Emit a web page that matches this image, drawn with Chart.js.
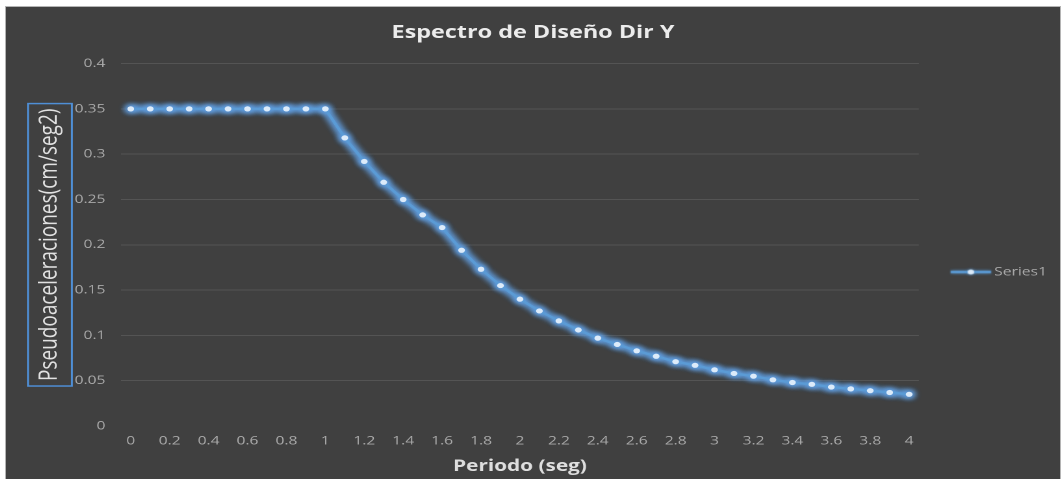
<!DOCTYPE html>
<html>
<head>
<meta charset="utf-8">
<script src="https://cdn.jsdelivr.net/npm/chart.js@4.4.0/dist/chart.umd.min.js"></script>
<style>
  html, body { margin: 0; padding: 0; background: #ffffff; width: 1061px; height: 479px; overflow: hidden; }
  #frame { position: absolute; left: 5px; top: 6px; width: 1054px; height: 480px;
           border: 1px solid #b4b4b4; background: #404040; overflow: hidden; }
  /* the chart is laid out on a narrower canvas and widened to fill the frame */
  #wide { position: absolute; left: 0; top: 0; width: 811px; height: 472px;
          transform: scaleX(1.2996); transform-origin: 0 0; }
</style>
</head>
<body>
<div id="frame"><div id="wide"><canvas id="chart" width="811" height="472"></canvas></div></div>
<script>
// Period (s) categories along the horizontal axis
const periods = [
  '0', '0.1', '0.2', '0.3', '0.4', '0.5', '0.6', '0.7', '0.8', '0.9',
  '1', '1.1', '1.2', '1.3', '1.4', '1.5', '1.6', '1.7', '1.8', '1.9',
  '2', '2.1', '2.2', '2.3', '2.4', '2.5', '2.6', '2.7', '2.8', '2.9',
  '3', '3.1', '3.2', '3.3', '3.4', '3.5', '3.6', '3.7', '3.8', '3.9',
  '4'
];

// Design spectrum pseudo-accelerations for each period
const pseudoAccel = [
  0.35, 0.35, 0.35, 0.35, 0.35, 0.35, 0.35, 0.35, 0.35, 0.35,
  0.35, 0.318, 0.292, 0.269, 0.25, 0.233, 0.219, 0.194, 0.173, 0.155,
  0.14, 0.127, 0.116, 0.106, 0.097, 0.09, 0.083, 0.077, 0.071, 0.067,
  0.062, 0.058, 0.055, 0.051, 0.048, 0.046, 0.043, 0.041, 0.039, 0.037,
  0.035
];

// Vertical axis range and step
const yMin = 0;
const yMax = 0.4;
const yStep = 0.05;

const seriesName = 'Series1';
const chartTitle = 'Espectro de Diseño Dir Y';
const xTitle = 'Periodo (seg)';
const yTitle = 'Pseudoaceleraciones(cm/seg2)';

const FONT = '"Open Sans", "Liberation Sans", sans-serif';
const LINE_BLUE = '#5b9bd5';
const DOT_FILL = '#dcebfa';
const TICK_GREY = '#a9a9a9';

// legend marker: short glowing line with a dot in the middle
function legendMarker() {
  const c = document.createElement('canvas');
  c.width = 33; c.height = 12;
  const g = c.getContext('2d');
  g.shadowColor = 'rgba(91,155,213,0.9)';
  g.shadowBlur = 3;
  g.strokeStyle = LINE_BLUE;
  g.lineWidth = 2.5;
  g.beginPath(); g.moveTo(1, 6); g.lineTo(32, 6); g.stroke();
  g.fillStyle = DOT_FILL;
  g.beginPath(); g.arc(16.5, 6, 2.5, 0, Math.PI * 2); g.fill();
  return c;
}

// soft blue halo under the series: the path is stroked far off-canvas and only
// its blurred shadow is shifted back under the points the controller placed
const glow = {
  id: 'glow',
  beforeDatasetsDraw(chart) {
    const ctx = chart.ctx;
    const pts = chart.getDatasetMeta(0).data;
    const dpr = chart.currentDevicePixelRatio || 1;
    const shift = 3000;
    ctx.save();
    ctx.shadowOffsetX = shift * dpr;
    ctx.shadowColor = 'rgba(100,165,235,0.85)';
    ctx.shadowBlur = 12;
    ctx.strokeStyle = '#000';
    ctx.fillStyle = '#000';
    ctx.lineWidth = 5;
    ctx.lineJoin = 'round';
    ctx.lineCap = 'round';
    for (let k = 0; k < 2; k++) {
      ctx.beginPath();
      pts.forEach((p, i) => (i ? ctx.lineTo(p.x - shift, p.y) : ctx.moveTo(p.x - shift, p.y)));
      ctx.stroke();
      pts.forEach((p) => { ctx.beginPath(); ctx.arc(p.x - shift, p.y, 3.6, 0, Math.PI * 2); ctx.fill(); });
    }
    ctx.restore();
  }
};

// outlined box around the vertical axis title
const yTitleFrame = {
  id: 'yTitleFrame',
  afterDraw(chart) {
    const s = chart.scales.y;
    const t = s.options.title;
    const size = t.font.size;
    const lineHeight = size * 1.2;
    const cx = s.left + t.padding.top + lineHeight / 2;
    const cy = (s.top + s.bottom) / 2;
    const ctx = chart.ctx;
    ctx.save();
    ctx.font = `${t.font.weight || 'normal'} ${size}px ${FONT}`;
    const len = ctx.measureText(t.text).width;
    const w = 33.8, h = len + 10;
    ctx.strokeStyle = '#4f8fd6';
    ctx.lineWidth = 1.5;
    ctx.strokeRect(cx - w / 2, cy - h / 2, w, h);
    ctx.restore();
  }
};

new Chart(document.getElementById('chart'), {
  type: 'line',
  data: {
    labels: periods,
    datasets: [{
      label: seriesName,
      data: pseudoAccel,
      borderColor: LINE_BLUE,
      borderWidth: 2.4,
      tension: 0,
      pointRadius: 2.6,
      pointBorderWidth: 0,
      pointBackgroundColor: DOT_FILL,
      pointBorderColor: DOT_FILL,
      fill: false
    }]
  },
  options: {
    responsive: false,
    animation: false,
    devicePixelRatio: 2,
    layout: { padding: 0 },
    plugins: {
      title: {
        display: true,
        text: chartTitle,
        color: '#ececec',
        font: { family: FONT, size: 18, weight: 'bold' },
        padding: { top: 15, bottom: 20 }
      },
      legend: {
        position: 'right',
        title: { display: true, text: '', font: { size: 12 }, padding: { top: 43.6, bottom: 0 } },
        labels: {
          usePointStyle: true,
          pointStyle: legendMarker(),
          pointStyleWidth: 24,
          padding: 28,
          color: TICK_GREY,
          font: { family: FONT, size: 12 }
        }
      },
      tooltip: { enabled: false }
    },
    scales: {
      x: {
        type: 'category',
        offset: true,
        grid: { display: false, drawTicks: false },
        border: { display: false },
        ticks: {
          autoSkip: false,
          maxRotation: 0,
          minRotation: 0,
          padding: 8,
          color: TICK_GREY,
          font: { family: FONT, size: 12 },
          callback(value, index) { return index % 2 === 0 ? periods[index] : ''; }
        },
        title: {
          display: true,
          text: xTitle,
          color: '#dedede',
          font: { family: FONT, size: 16, weight: 'bold' },
          padding: { top: 4, bottom: 3 }
        },
        afterFit(scale) { scale.height = 53; }
      },
      y: {
        min: yMin,
        max: yMax,
        grid: {
          drawTicks: false,
          lineWidth: 1,
          color: (ctx) => (ctx.tick && ctx.tick.value === 0) ? 'rgba(0,0,0,0)' : '#545454'
        },
        border: { display: false },
        ticks: {
          stepSize: yStep,
          padding: 12,
          color: TICK_GREY,
          font: { family: FONT, size: 12 },
          callback(value) { return String(Number(value.toFixed(2))); }
        },
        title: {
          display: true,
          text: yTitle,
          color: '#e2e2e2',
          font: { family: FONT, size: 19, weight: 'normal' },
          padding: { top: 22.4, bottom: 0 }
        },
        afterFit(scale) { scale.width = 88.5; }
      }
    }
  },
  plugins: [glow, yTitleFrame]
});
</script>
</body>
</html>
